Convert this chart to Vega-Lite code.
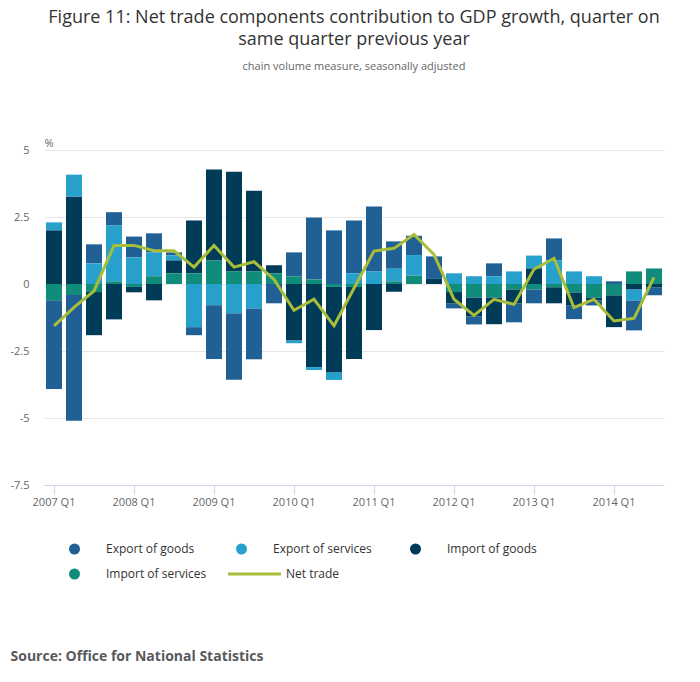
{
  "$schema": "https://vega.github.io/schema/vega-lite/v6.json",
  "width": 620,
  "height": 335,
  "autosize": {"type": "none"},
  "padding": {"left": 44, "top": 150, "right": 36, "bottom": 197},
  "background": "white",
  "config": {"font": "Open Sans", "view": {"stroke": null}},
  "title": {
    "text": ["Figure 11: Net trade components contribution to GDP growth, quarter on", "same quarter previous year"],
    "subtitle": "chain volume measure, seasonally adjusted",
    "fontSize": 18,
    "fontWeight": "normal",
    "color": "#333333",
    "lineHeight": 22,
    "subtitleFontSize": 11,
    "subtitleColor": "#666666",
    "subtitlePadding": 12,
    "anchor": "middle",
    "frame": "group",
    "offset": 65
  },
  "data": {
    "values": [
      {"q": "2007 Q1", "Export of goods": -3.31, "Export of services": 0.30, "Import of goods": 2.00, "Import of services": -0.61, "Net trade": -1.56},
      {"q": "2007 Q2", "Export of goods": -4.69, "Export of services": 0.82, "Import of goods": 3.26, "Import of services": -0.41, "Net trade": -0.87},
      {"q": "2007 Q3", "Export of goods": 0.71, "Export of services": 0.77, "Import of goods": -1.61, "Import of services": -0.30, "Net trade": -0.26},
      {"q": "2007 Q4", "Export of goods": 0.50, "Export of services": 2.08, "Import of goods": -1.32, "Import of services": 0.10, "Net trade": 1.44},
      {"q": "2008 Q1", "Export of goods": 0.78, "Export of services": 0.99, "Import of goods": -0.20, "Import of services": -0.11, "Net trade": 1.44},
      {"q": "2008 Q2", "Export of goods": 0.71, "Export of services": 0.89, "Import of goods": -0.61, "Import of services": 0.29, "Net trade": 1.24},
      {"q": "2008 Q3", "Export of goods": 0.11, "Export of services": 0.19, "Import of goods": 0.48, "Import of services": 0.40, "Net trade": 1.24},
      {"q": "2008 Q4", "Export of goods": -0.30, "Export of services": -1.61, "Import of goods": 1.97, "Import of services": 0.40, "Net trade": 0.63},
      {"q": "2009 Q1", "Export of goods": -2.01, "Export of services": -0.79, "Import of goods": 3.39, "Import of services": 0.88, "Net trade": 1.44},
      {"q": "2009 Q2", "Export of goods": -2.48, "Export of services": -1.09, "Import of goods": 3.72, "Import of services": 0.47, "Net trade": 0.63},
      {"q": "2009 Q3", "Export of goods": -1.90, "Export of services": -0.91, "Import of goods": 3.01, "Import of services": 0.47, "Net trade": 0.83},
      {"q": "2009 Q4", "Export of goods": -0.72, "Export of services": 0, "Import of goods": 0.30, "Import of services": 0.40, "Net trade": 0.17},
      {"q": "2010 Q1", "Export of goods": 0.89, "Export of services": -0.11, "Import of goods": -2.10, "Import of services": 0.29, "Net trade": -0.98},
      {"q": "2010 Q2", "Export of goods": 2.31, "Export of services": -0.11, "Import of goods": -3.10, "Import of services": 0.17, "Net trade": -0.57},
      {"q": "2010 Q3", "Export of goods": 2.00, "Export of services": -0.29, "Import of goods": -3.18, "Import of services": -0.11, "Net trade": -1.56},
      {"q": "2010 Q4", "Export of goods": 1.97, "Export of services": 0.40, "Import of goods": -2.69, "Import of services": -0.11, "Net trade": -0.16},
      {"q": "2011 Q1", "Export of goods": 2.42, "Export of services": 0.47, "Import of goods": -1.72, "Import of services": 0, "Net trade": 1.23},
      {"q": "2011 Q2", "Export of goods": 1.02, "Export of services": 0.47, "Import of goods": -0.29, "Import of services": 0.10, "Net trade": 1.33},
      {"q": "2011 Q3", "Export of goods": 0.72, "Export of services": 0.77, "Import of goods": 0, "Import of services": 0.31, "Net trade": 1.85},
      {"q": "2011 Q4", "Export of goods": 0.84, "Export of services": 0, "Import of goods": 0.19, "Import of services": 0, "Net trade": 1.10},
      {"q": "2012 Q1", "Export of goods": -0.19, "Export of services": 0.40, "Import of goods": -0.42, "Import of services": -0.30, "Net trade": -0.57},
      {"q": "2012 Q2", "Export of goods": -0.30, "Export of services": 0.29, "Import of goods": -0.71, "Import of services": -0.50, "Net trade": -1.17},
      {"q": "2012 Q3", "Export of goods": 0.48, "Export of services": 0.29, "Import of goods": -1.00, "Import of services": -0.50, "Net trade": -0.57},
      {"q": "2012 Q4", "Export of goods": -0.71, "Export of services": 0.47, "Import of goods": -0.52, "Import of services": -0.20, "Net trade": -0.76},
      {"q": "2013 Q1", "Export of goods": -0.52, "Export of services": 0.48, "Import of goods": 0.58, "Import of services": -0.20, "Net trade": 0.55},
      {"q": "2013 Q2", "Export of goods": 0.82, "Export of services": 0.88, "Import of goods": -0.60, "Import of services": -0.12, "Net trade": 0.96},
      {"q": "2013 Q3", "Export of goods": -0.52, "Export of services": 0.47, "Import of goods": -0.48, "Import of services": -0.31, "Net trade": -0.88},
      {"q": "2013 Q4", "Export of goods": -0.19, "Export of services": 0.29, "Import of goods": -0.11, "Import of services": -0.50, "Net trade": -0.57},
      {"q": "2014 Q1", "Export of goods": 0.10, "Export of services": 0, "Import of goods": -1.19, "Import of services": -0.42, "Net trade": -1.38},
      {"q": "2014 Q2", "Export of goods": -1.12, "Export of services": -0.41, "Import of goods": -0.20, "Import of services": 0.47, "Net trade": -1.28},
      {"q": "2014 Q3", "Export of goods": -0.30, "Export of services": 0, "Import of goods": -0.12, "Import of services": 0.58, "Net trade": 0.25}
    ]
  },
  "encoding": {
    "x": {
      "field": "q",
      "type": "ordinal",
      "scale": {"paddingInner": 0.2, "paddingOuter": 0.1},
      "axis": {
        "values": ["2007 Q1", "2008 Q1", "2009 Q1", "2010 Q1", "2011 Q1", "2012 Q1", "2013 Q1", "2014 Q1"],
        "labelAngle": 0,
        "labelFontSize": 11,
        "labelColor": "#666666",
        "labelPadding": 2,
        "domainColor": "#ccd6eb",
        "tickColor": "#ccd6eb",
        "tickSize": 9,
        "title": "Source: Office for National Statistics",
        "titleX": -34,
        "titleY": 175,
        "titleAlign": "left",
        "titleBaseline": "alphabetic",
        "titleFontSize": 14,
        "titleFontWeight": "bold",
        "titleColor": "#58595b"
      }
    }
  },
  "layer": [
    {
      "mark": {"type": "bar"},
      "transform": [
        {"fold": ["Export of goods", "Export of services", "Import of goods", "Import of services"], "as": ["key", "value"]}
      ],
      "encoding": {
        "y": {
          "field": "value",
          "type": "quantitative",
          "stack": "zero",
          "scale": {"domain": [-7.5, 5], "nice": false},
          "axis": {
            "values": [-7.5, -5, -2.5, 0, 2.5, 5],
            "labelExpr": "datum.value + ''",
            "labelFontSize": 11,
            "labelColor": "#666666",
            "labelPadding": 15,
            "domain": false,
            "ticks": false,
            "gridColor": "#e6e6e6",
            "title": "%",
            "titleAngle": 0,
            "titleAlign": "left",
            "titleBaseline": "alphabetic",
            "titleX": 0,
            "titleY": -4,
            "titleFontSize": 11,
            "titleFontWeight": "normal",
            "titleColor": "#666666"
          }
        },
        "order": {"field": "key", "sort": "descending"},
        "color": {
          "field": "key",
          "type": "nominal",
          "scale": {
            "domain": ["Export of goods", "Export of services", "Import of goods", "Import of services", "Net trade"],
            "range": ["#206095", "#27a0cc", "#003c57", "#118c7b", "#a8bd3a"]
          },
          "legend": {
            "title": null,
            "orient": "none",
            "legendX": 24,
            "legendY": 393,
            "direction": "horizontal",
            "columns": 3,
            "columnPadding": 15,
            "rowPadding": 13,
            "symbolType": "circle",
            "symbolSize": 121,
            "labelOffset": 26,
            "labelFontSize": 12,
            "labelColor": "#333333",
            "encode": {
              "symbols": {
                "update": {
                  "shape": {"signal": "datum.value === 'Net trade' ? 'stroke' : 'circle'"},
                  "size": {"signal": "datum.value === 'Net trade' ? 2809 : 121"},
                  "x": {"signal": "datum.value === 'Net trade' ? 19.5 : datum.value === 'Import of goods' ? 28.5 : 6.5"},
                  "strokeWidth": {"signal": "datum.value === 'Net trade' ? 3 : 0"},
                  "stroke": {"scale": "color", "field": "value"},
                  "fill": {"scale": "color", "field": "value"}
                }
              },
              "labels": {
                "update": {
                  "dx": {"signal": "datum.value === 'Net trade' ? 13 : datum.value === 'Import of goods' ? 22 : 0"}
                }
              }
            }
          }
        }
      }
    },
    {
      "mark": {"type": "line", "strokeWidth": 3},
      "encoding": {
        "y": {"field": "Net trade", "type": "quantitative"},
        "color": {"datum": "Net trade", "type": "nominal"}
      }
    }
  ]
}
